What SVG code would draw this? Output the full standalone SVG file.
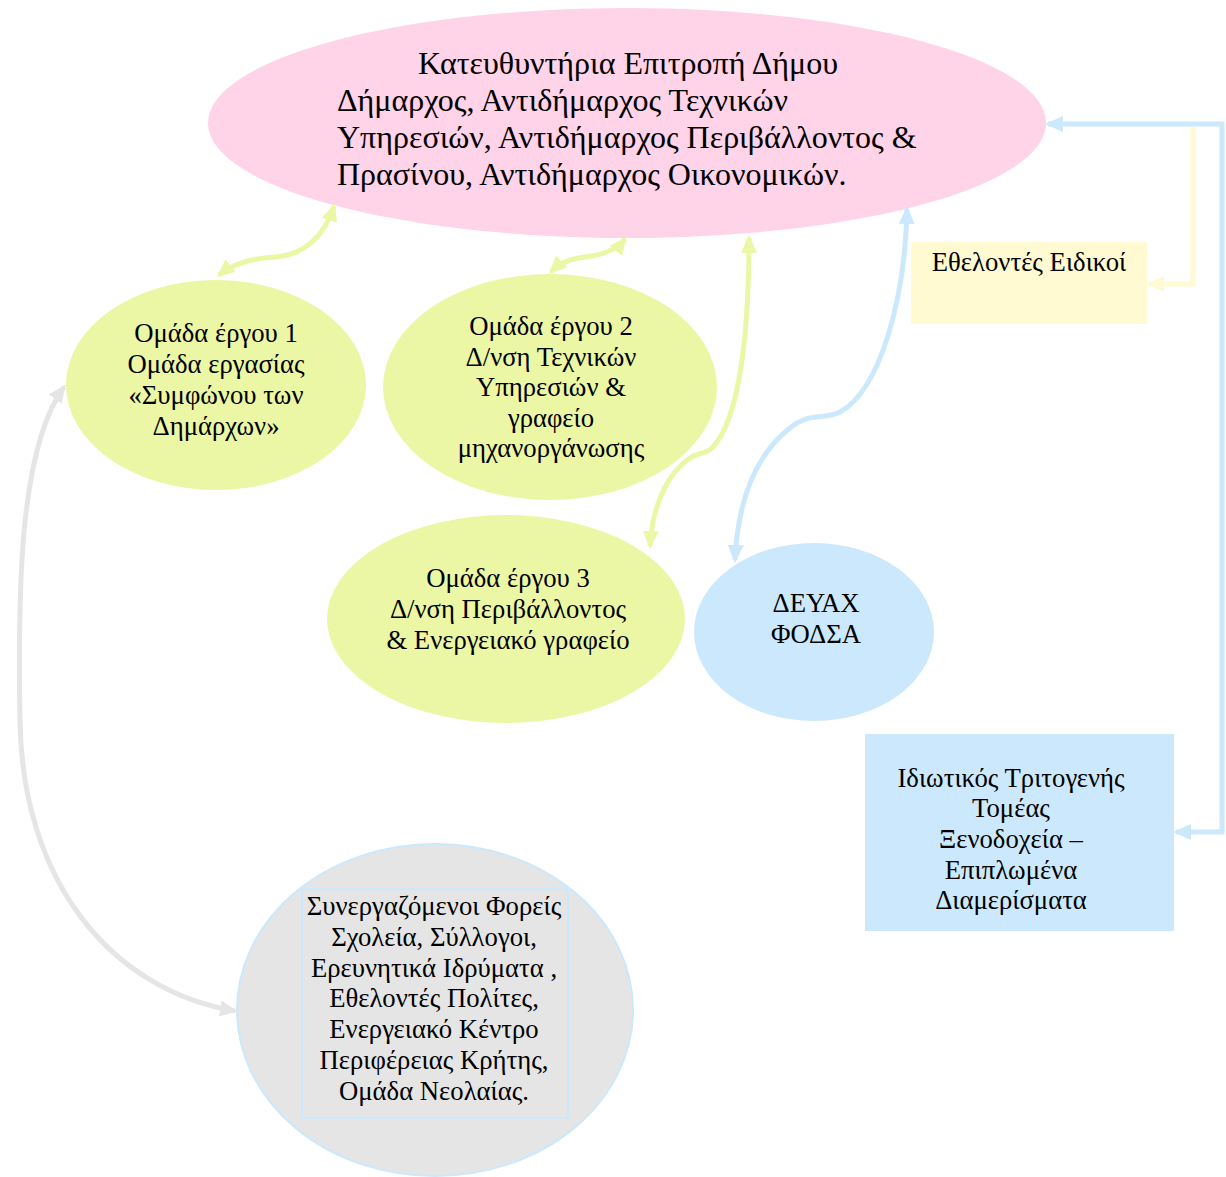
<svg xmlns="http://www.w3.org/2000/svg" width="1226" height="1177" viewBox="0 0 1226 1177">
  <style>
    text { font-family: "Liberation Serif", "Times New Roman", serif; fill: #000; }
    .t32 { font-size: 32px; }
    .t27 { font-size: 26.7px; text-anchor: middle; }
    .link { fill: none; stroke-width: 5; }
    .green { stroke: #ebf7a5; }
    .blue { stroke: #cce8fc; }
    .grey { stroke: #e5e5e5; }
    .yellow { stroke: #fffad2; }
  </style>
  <defs>
    <marker id="ahGreen" viewBox="0 0 18 16" markerUnits="userSpaceOnUse" markerWidth="18" markerHeight="16" refX="15" refY="8" orient="auto-start-reverse">
      <path d="M0 0 L18 8 L0 16 z" fill="#ebf7a5"/>
    </marker>
    <marker id="ahBlue" viewBox="0 0 18 16" markerUnits="userSpaceOnUse" markerWidth="18" markerHeight="16" refX="15" refY="8" orient="auto-start-reverse">
      <path d="M0 0 L18 8 L0 16 z" fill="#cce8fc"/>
    </marker>
    <marker id="ahGrey" viewBox="0 0 18 16" markerUnits="userSpaceOnUse" markerWidth="18" markerHeight="16" refX="15" refY="8" orient="auto-start-reverse">
      <path d="M0 0 L18 8 L0 16 z" fill="#e5e5e5"/>
    </marker>
    <marker id="ahYellow" viewBox="0 0 18 16" markerUnits="userSpaceOnUse" markerWidth="18" markerHeight="16" refX="15" refY="8" orient="auto-start-reverse">
      <path d="M0 0 L18 8 L0 16 z" fill="#fffad2"/>
    </marker>
  </defs>

  <rect width="1226" height="1177" fill="#ffffff"/>

  <!-- Steering committee -->
  <g id="committee">
    <ellipse cx="627" cy="123" rx="419" ry="115" fill="#ffd3e8"/>
    <text class="t32" x="418" y="74">Κατευθυντήρια Επιτροπή Δήμου</text>
    <text class="t32" x="337" y="111">Δήμαρχος, Αντιδήμαρχος Τεχνικών</text>
    <text class="t32" x="337" y="148">Υπηρεσιών, Αντιδήμαρχος Περιβάλλοντος &amp;</text>
    <text class="t32" x="337" y="185">Πρασίνου, Αντιδήμαρχος Οικονομικών.</text>
  </g>

  <!-- Project group 1 -->
  <g id="group1">
    <ellipse cx="216" cy="385" rx="150" ry="105" fill="#ebf7a5"/>
    <text class="t27" x="216" y="342">Ομάδα έργου 1</text>
    <text class="t27" x="216" y="373">Ομάδα εργασίας</text>
    <text class="t27" x="216" y="404">«Συμφώνου των</text>
    <text class="t27" x="216" y="435">Δημάρχων»</text>
  </g>

  <!-- Project group 2 -->
  <g id="group2">
    <ellipse cx="550" cy="387" rx="167" ry="113" fill="#ebf7a5"/>
    <text class="t27" x="551" y="335">Ομάδα έργου 2</text>
    <text class="t27" x="551" y="366">Δ/νση Τεχνικών</text>
    <text class="t27" x="551" y="396">Υπηρεσιών &amp;</text>
    <text class="t27" x="551" y="427">γραφείο</text>
    <text class="t27" x="551" y="457">μηχανοργάνωσης</text>
  </g>

  <!-- Project group 3 -->
  <g id="group3">
    <ellipse cx="506" cy="619" rx="179" ry="104" fill="#ebf7a5"/>
    <text class="t27" x="508" y="587">Ομάδα έργου 3</text>
    <text class="t27" x="508" y="618">Δ/νση Περιβάλλοντος</text>
    <text class="t27" x="508" y="649">&amp; Ενεργειακό γραφείο</text>
  </g>

  <!-- Utilities -->
  <g id="deyax">
    <ellipse cx="814" cy="632" rx="120" ry="89" fill="#cce8fc"/>
    <text class="t27" x="816" y="612">ΔΕΥΑΧ</text>
    <text class="t27" x="816" y="643">ΦΟΔΣΑ</text>
  </g>

  <!-- Specialist volunteers -->
  <g id="volunteers">
    <rect x="911" y="242" width="236" height="82" fill="#fffad2"/>
    <text class="t27" x="1029" y="271">Εθελοντές Ειδικοί</text>
  </g>

  <!-- Private tertiary sector -->
  <g id="private">
    <rect x="865" y="734" width="309" height="197" fill="#cce8fc"/>
    <text class="t27" x="1011" y="787">Ιδιωτικός Τριτογενής</text>
    <text class="t27" x="1011" y="817">Τομέας</text>
    <text class="t27" x="1011" y="848">Ξενοδοχεία –</text>
    <text class="t27" x="1011" y="879">Επιπλωμένα</text>
    <text class="t27" x="1011" y="909">Διαμερίσματα</text>
  </g>

  <!-- Partner bodies -->
  <g id="partners">
    <ellipse cx="435" cy="1010" rx="198" ry="166" fill="#e5e5e5" stroke="#cce8fc" stroke-width="2"/>
    <rect x="302" y="889" width="266" height="229" fill="none" stroke="#cce8fc" stroke-width="2"/>
    <text class="t27" x="434" y="915">Συνεργαζόμενοι Φορείς</text>
    <text class="t27" x="434" y="946">Σχολεία, Σύλλογοι,</text>
    <text class="t27" x="434" y="977">Ερευνητικά Ιδρύματα ,</text>
    <text class="t27" x="434" y="1007">Εθελοντές Πολίτες,</text>
    <text class="t27" x="434" y="1038">Ενεργειακό Κέντρο</text>
    <text class="t27" x="434" y="1069">Περιφέρειας Κρήτης,</text>
    <text class="t27" x="434" y="1100">Ομάδα Νεολαίας.</text>
  </g>

  <!-- Connectors -->
  <g id="connectors">
    <path class="link green" d="M219 275 C235 262 255 258 275 257 C305 255 325 235 334 206" marker-start="url(#ahGreen)" marker-end="url(#ahGreen)"/>
    <path class="link green" d="M551 272 C565 258 580 258 592 256 C605 254 618 248 625 239" marker-start="url(#ahGreen)" marker-end="url(#ahGreen)"/>
    <path class="link green" d="M749 238 C749 330 740 420 712 448 C705 455 698 452 690 458 C665 475 652 510 650 546" marker-start="url(#ahGreen)" marker-end="url(#ahGreen)"/>
    <path class="link blue" d="M907 209 C905 300 880 390 840 412 C825 420 808 412 790 428 C755 455 738 500 735 560" marker-start="url(#ahBlue)" marker-end="url(#ahBlue)"/>
    <path class="link yellow" d="M1193 127 V284 H1149" marker-end="url(#ahYellow)"/>
    <path class="link blue" d="M1048 124 H1222 V832 H1176" marker-start="url(#ahBlue)" marker-end="url(#ahBlue)"/>
    <path class="link grey" d="M64 387 C18 450 18 600 20 720 C22 880 110 990 235 1011" marker-start="url(#ahGrey)" marker-end="url(#ahGrey)"/>
  </g>
</svg>
